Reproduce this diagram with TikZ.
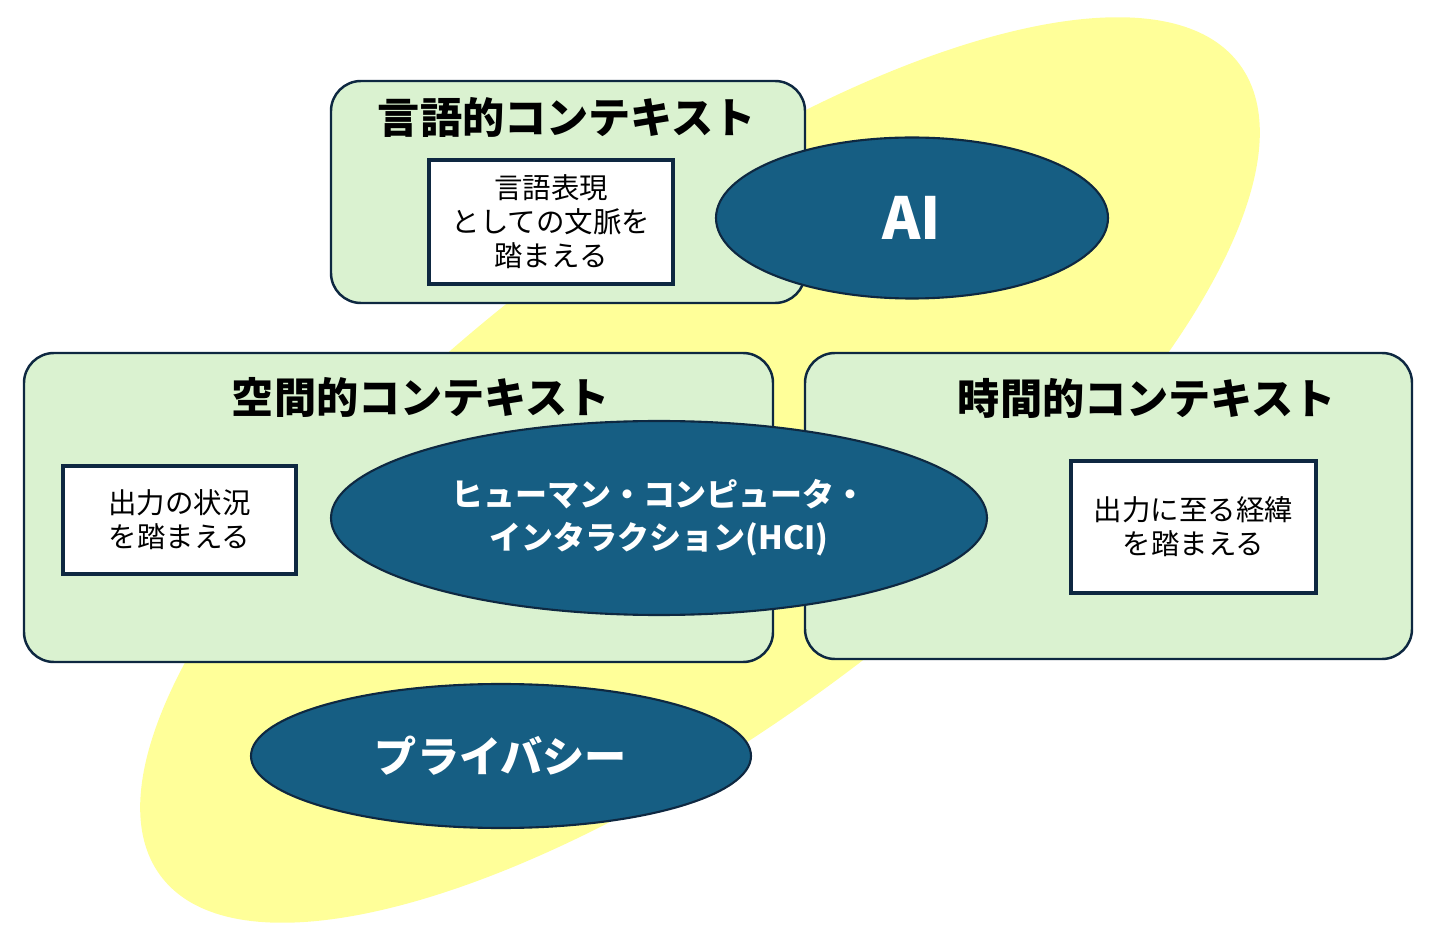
\documentclass[tikz,border=0pt]{standalone}
\usepackage{fontspec}
\setmainfont{Noto Sans CJK JP}
\usepackage{xcolor}
\usetikzlibrary{shapes.geometric}

\definecolor{ctxgreen}{HTML}{DAF2D0}
\definecolor{bgyellow}{HTML}{FFFF99}
\definecolor{techblue}{HTML}{165E83}
\definecolor{edgenavy}{HTML}{0E2841}

\begin{document}
\begin{tikzpicture}[
  ctx/.style={rectangle, rounded corners=0.6cm, draw=edgenavy, fill=ctxgreen,
              line width=1.4pt},
  title/.style={font=\fontsize{24}{28}\selectfont\bfseries, text=black},
  note/.style={rectangle, draw=edgenavy, fill=white, line width=2.3pt,
               align=center, font=\fontsize{16.2}{19.3}\selectfont},
  tech/.style={ellipse, draw=edgenavy, fill=techblue, line width=1.2pt,
               inner sep=0pt, text=white, align=center}
]
\useasboundingbox (0,0) rectangle (28.74,-18.8);

% background
\node[ellipse, fill=bgyellow, rotate=37, minimum width=27cm,
      minimum height=10cm] (bg) at (14,-9.4) {};

% linguistic context
\node[ctx, minimum width=9.48cm, minimum height=4.44cm] (ling) at (11.36,-3.84) {};
\node[title] (lingT) at (11.34,-2.34) {言語的コンテキスト};
\node[note, minimum width=4.88cm, minimum height=2.48cm] (lingN) at (11.02,-4.44)
  {言語表現\\としての文脈を\\踏まえる};

% spatial context
\node[ctx, minimum width=14.98cm, minimum height=6.18cm] (spat) at (7.97,-10.15) {};
\node[title] (spatT) at (8.42,-7.94) {空間的コンテキスト};
\node[note, minimum width=4.66cm, minimum height=2.16cm] (spatN) at (3.59,-10.4)
  {出力の状況\\を踏まえる};

% temporal context
\node[ctx, minimum width=12.14cm, minimum height=6.12cm] (temp) at (22.17,-10.12) {};
\node[title] (tempT) at (22.94,-7.96) {時間的コンテキスト};
\node[note, minimum width=4.9cm, minimum height=2.64cm] (tempN) at (23.87,-10.54)
  {出力に至る経緯\\を踏まえる};

% technologies
\node[tech, minimum width=7.84cm, minimum height=3.22cm,
      font=\fontsize{33}{38}\selectfont\bfseries] (ai) at (18.24,-4.36) {AI};
\node[tech, minimum width=13.12cm, minimum height=3.88cm,
      font=\fontsize{18.2}{24.5}\selectfont\bfseries] (hci) at (13.18,-10.36)
  {ヒューマン・コンピュータ・\\インタラクション(HCI)};
\node[tech, minimum width=10cm, minimum height=2.88cm,
      font=\fontsize{24}{28}\selectfont\bfseries] (priv) at (10.02,-15.12) {プライバシー};
\end{tikzpicture}
\end{document}
